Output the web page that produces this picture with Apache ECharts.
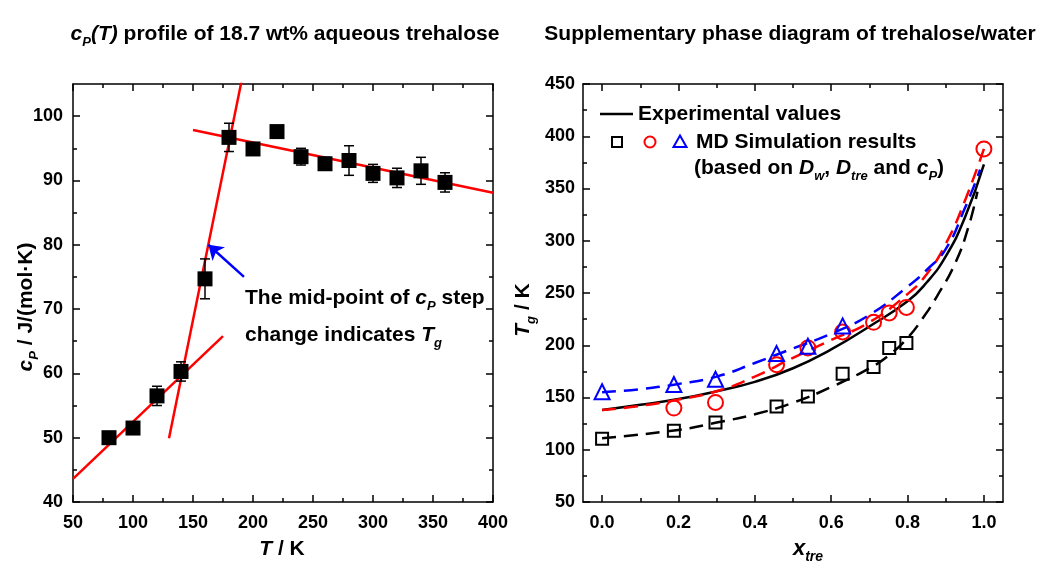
<!DOCTYPE html>
<html><head><meta charset="utf-8">
<script src="https://cdn.jsdelivr.net/npm/echarts@6/dist/echarts.min.js"></script>
<style>html,body{margin:0;padding:0;background:#fff}#c{width:1037px;height:569px}</style>
</head><body><div id="c"></div>
<script>
// ---------- Left panel data: cP(T) of 18.7 wt% aqueous trehalose ----------
const cpTemps  = [80, 100, 120, 140, 160, 180, 200, 220, 240, 260, 280, 300, 320, 340, 360];
const cpValues = [50.0, 51.5, 56.5, 60.3, 74.7, 96.7, 94.9, 97.6, 93.7, 92.6, 93.1, 91.1, 90.4, 91.5, 89.7];
const cpErrors = [0.5, 0.8, 1.5, 1.5, 3.1, 2.2, 0.7, 0.6, 1.3, 1.0, 2.3, 1.4, 1.5, 2.1, 1.5];
const fitGlassT = [50, 175],    fitGlassCp = [43.6, 65.8];
const fitStepT = [130, 190.6],  fitStepCp = [49.9, 105.6];
const fitLiquidT = [150, 400],  fitLiquidCp = [97.85, 88.1];
const arrowTail = [192.5, 75.0], arrowTip = [162.8, 80.0];
const leftXTicks = [50, 100, 150, 200, 250, 300, 350, 400];
const leftXMinor = [75, 125, 175, 225, 275, 325, 375];
const leftYTicks = [40, 50, 60, 70, 80, 90, 100];
const leftYMinor = [45, 55, 65, 75, 85, 95];

// ---------- Right panel data: Tg vs x_tre ----------
const sqX = [0.0, 0.188, 0.297, 0.457, 0.539, 0.630, 0.711, 0.752, 0.797];
const sqT = [110.5, 118.2, 126.1, 141.4, 151.0, 172.7, 179.2, 197.4, 202.1];
const ciX = [0.188, 0.297, 0.457, 0.539, 0.630, 0.711, 0.752, 0.797, 1.0];
const ciT = [139.9, 145.3, 181.4, 197.4, 212.7, 221.9, 230.9, 236.2, 387.9];
const trX = [0.0, 0.188, 0.297, 0.457, 0.539, 0.630];
const trT = [155.5, 162.5, 167.5, 192.0, 199.0, 218.5];
const expX = [0.0, 0.1, 0.2, 0.3, 0.4, 0.5, 0.6, 0.7, 0.8, 0.85, 0.9, 0.95, 1.0];
const expT = [138, 143, 148.5, 156, 165, 178, 196, 218, 242, 260, 285, 322, 373];
const sqFitX = [0.0, 0.2, 0.3, 0.4, 0.5, 0.6, 0.7, 0.75, 0.8, 0.843, 0.877, 0.925, 0.96, 0.983];
const sqFitT = [111, 119, 126, 134, 145, 160, 178, 190, 207, 227.6, 246.8, 278.7, 313.8, 347];
const ciFitX = [0.0, 0.1, 0.2, 0.3, 0.4, 0.5, 0.6, 0.7, 0.8, 0.85, 0.9, 0.95, 1.0];
const ciFitT = [138, 142, 148, 156, 170, 188, 205, 222, 249, 268, 297, 338, 388];
const trFitX = [0.0, 0.1, 0.2, 0.3, 0.4, 0.5, 0.6, 0.7, 0.8, 0.85, 0.9, 0.95, 0.99];
const trFitT = [155, 158, 163, 170, 183, 197, 211, 229, 256, 272, 292, 331, 368];
const rightXTicks = [0, 0.2, 0.4, 0.6, 0.8, 1.0];
const rightXMinor = [0.1, 0.3, 0.5, 0.7, 0.9];
const rightYTicks = [50, 100, 150, 200, 250, 300, 350, 400, 450];
const rightYMinor = [75, 125, 175, 225, 275, 325, 375, 425];

// ---------- chart ----------
const F = 'Liberation Sans, Arial, sans-serif';
const zip = (a, b) => a.map((v, i) => [v, b[i]]);

function axisSet(dim, gridIndex, min, max, majors, minors, fmt, margin) {
  const posA = dim === 'x' ? 'bottom' : 'left';
  const posB = dim === 'x' ? 'top' : 'right';
  const base = () => ({
    type: 'value', gridIndex, min, max, splitLine: {show: false},
    axisLine: {show: false, onZero: false}, axisLabel: {show: false}, axisTick: {show: false}
  });
  const line = {show: true, onZero: false, lineStyle: {color: '#000', width: 1.5}};
  const maj = {show: true, inside: true, length: 7, customValues: majors, lineStyle: {color: '#000', width: 1.5}};
  const mnr = {show: true, inside: true, length: 4, customValues: minors, lineStyle: {color: '#000', width: 1.5}};
  return [
    Object.assign(base(), {position: posA, axisLine: line, axisTick: maj,
      axisLabel: {show: true, customValues: majors, formatter: fmt, margin, color: '#000',
        fontFamily: F, fontWeight: 'bold', fontSize: 18}}),
    Object.assign(base(), {position: posA, axisTick: mnr}),
    Object.assign(base(), {position: posB, axisLine: line, axisTick: maj}),
    Object.assign(base(), {position: posB, axisTick: mnr})
  ];
}

const intFmt = v => String(Math.round(v));
const decFmt = v => (Math.round(v * 10) / 10).toFixed(1);

const xAxes = [].concat(
  axisSet('x', 0, 50, 400, leftXTicks, leftXMinor, intFmt, 12),
  axisSet('x', 1, -0.05, 1.05, rightXTicks, rightXMinor, decFmt, 12)
);
const yAxes = [].concat(
  axisSet('y', 0, 40, 105, leftYTicks, leftYMinor, intFmt, 10),
  axisSet('y', 1, 50, 450, rightYTicks, rightYMinor, intFmt, 8)
);

const RED = '#ff0000', BLUE = '#0000ff';
const fitLine = (xs, ys, color, dashed, xi, yi, extra) => Object.assign({
  type: 'line', xAxisIndex: xi, yAxisIndex: yi, data: zip(xs, ys), symbol: 'none', showSymbol: false,
  lineStyle: {color, width: 2.5, type: dashed ? [14, 8] : 'solid'}, z: 2
}, extra || {});

const series = [
  fitLine(fitGlassT, fitGlassCp, RED, false, 0, 0),
  fitLine(fitStepT, fitStepCp, RED, false, 0, 0),
  fitLine(fitLiquidT, fitLiquidCp, RED, false, 0, 0),
  {
    type: 'custom', xAxisIndex: 0, yAxisIndex: 0, z: 3,
    data: cpTemps.map((t, i) => [t, cpValues[i], cpErrors[i]]),
    encode: {x: 0, y: 1},
    renderItem(params, api) {
      const x = api.value(0), y = api.value(1), e = api.value(2);
      const hi = api.coord([x, y + e]), lo = api.coord([x, y - e]);
      const w = 5, st = {stroke: '#000', lineWidth: 1.5, fill: null};
      return {type: 'group', children: [
        {type: 'line', shape: {x1: hi[0], y1: hi[1], x2: lo[0], y2: lo[1]}, style: st},
        {type: 'line', shape: {x1: hi[0] - w, y1: hi[1], x2: hi[0] + w, y2: hi[1]}, style: st},
        {type: 'line', shape: {x1: lo[0] - w, y1: lo[1], x2: lo[0] + w, y2: lo[1]}, style: st}
      ]};
    }
  },
  {
    type: 'scatter', xAxisIndex: 0, yAxisIndex: 0, z: 4, data: zip(cpTemps, cpValues),
    symbol: 'rect', symbolSize: 15, itemStyle: {color: '#000', opacity: 1}
  },
  {
    type: 'lines', coordinateSystem: 'cartesian2d', xAxisIndex: 0, yAxisIndex: 0, z: 5,
    data: [{coords: [arrowTail, arrowTip]}],
    symbol: ['none', 'arrow'], symbolSize: 14,
    lineStyle: {color: BLUE, width: 2.5, opacity: 1}
  },
  fitLine(expX, expT, '#000', false, 4, 4, {smooth: true}),
  fitLine(sqFitX, sqFitT, '#000', true, 4, 4, {smooth: true}),
  fitLine(ciFitX, ciFitT, RED, true, 4, 4, {smooth: true}),
  fitLine(trFitX, trFitT, BLUE, true, 4, 4, {smooth: true}),
  {
    type: 'scatter', xAxisIndex: 4, yAxisIndex: 4, z: 4, data: zip(sqX, sqT),
    symbol: 'rect', symbolSize: 12, itemStyle: {color: 'rgba(0,0,0,0)', borderColor: '#000', borderWidth: 2, opacity: 1}
  },
  {
    type: 'scatter', xAxisIndex: 4, yAxisIndex: 4, z: 4, data: zip(ciX, ciT),
    symbol: 'circle', symbolSize: 15, itemStyle: {color: 'rgba(0,0,0,0)', borderColor: RED, borderWidth: 2, opacity: 1}
  },
  {
    type: 'scatter', xAxisIndex: 4, yAxisIndex: 4, z: 4, data: zip(trX, trT),
    symbol: 'triangle', symbolSize: 15, itemStyle: {color: 'rgba(0,0,0,0)', borderColor: BLUE, borderWidth: 2, opacity: 1}
  }
];

// rich text helpers
function rich(size, subSize, lh) {
  return {
    n: {fontSize: size, fontWeight: 'bold', fontFamily: F, fill: '#000', lineHeight: lh, verticalAlign: 'middle'},
    i: {fontSize: size, fontWeight: 'bold', fontStyle: 'italic', fontFamily: F, fill: '#000', lineHeight: lh, verticalAlign: 'middle'},
    s: {fontSize: subSize, fontWeight: 'bold', fontStyle: 'italic', fontFamily: F, fill: '#000', lineHeight: subSize, verticalAlign: 'bottom'}
  };
}
function txt(x, y, text, opts) {
  opts = opts || {};
  const size = opts.size || 21;
  return {
    type: 'text', x, y, rotation: opts.rot || 0, z: 100,
    style: {
      text, rich: rich(size, opts.sub || 13, opts.lh || 30),
      fontSize: size, fontWeight: 'bold', fontFamily: F, fill: '#000',
      textAlign: opts.align || 'left', textVerticalAlign: 'middle'
    }
  };
}

const graphic = [
  txt(285, 34, '{i|c}{s|P}{i|(T)}{n| profile of 18.7 wt% aqueous trehalose}', {align: 'center'}),
  txt(790, 34, '{n|Supplementary phase diagram of trehalose/water}', {align: 'center'}),
  txt(26, 307, '{i|c}{s|P}{n| / J/(mol·K)}', {align: 'center', rot: Math.PI / 2}),
  txt(282, 549, '{i|T}{n| / K}', {align: 'center'}),
  txt(523, 310, '{i|T}{s|g}{n| / K}', {align: 'center', rot: Math.PI / 2}),
  txt(808, 549, '{i|x}{s|tre}', {align: 'center', size: 22, sub: 14}),
  txt(245, 298, '{n|The mid-point of }{i|c}{s|P}{n| step}'),
  txt(245, 335, '{n|change indicates }{i|T}{s|g}'),
  // legend
  {type: 'line', shape: {x1: 600, y1: 114, x2: 633, y2: 114}, style: {stroke: '#000', lineWidth: 2.5}, z: 100},
  txt(638, 114, '{n|Experimental values}'),
  {type: 'rect', shape: {x: 612, y: 137, width: 10, height: 10}, style: {fill: 'none', stroke: '#000', lineWidth: 2}, z: 100},
  {type: 'circle', shape: {cx: 650, cy: 142, r: 5.5}, style: {fill: 'none', stroke: RED, lineWidth: 2}, z: 100},
  {type: 'polygon', shape: {points: [[680, 135.5], [686.5, 147], [673.5, 147]]}, style: {fill: 'none', stroke: BLUE, lineWidth: 2}, z: 100},
  txt(696, 142, '{n|MD Simulation results}'),
  txt(694, 168, '{n|(based on }{i|D}{s|w}{n|, }{i|D}{s|tre}{n| and }{i|c}{s|P}{n|)}')
];

const chart = echarts.init(document.getElementById('c'), null, {renderer: 'canvas'});
chart.setOption({
  animation: false,
  backgroundColor: '#fff',
  grid: [
    {left: 73, top: 84, width: 420, height: 418, containLabel: false},
    {left: 583, top: 84, width: 420, height: 418, containLabel: false}
  ],
  xAxis: xAxes,
  yAxis: yAxes,
  series,
  graphic
});
</script>
</body></html>
